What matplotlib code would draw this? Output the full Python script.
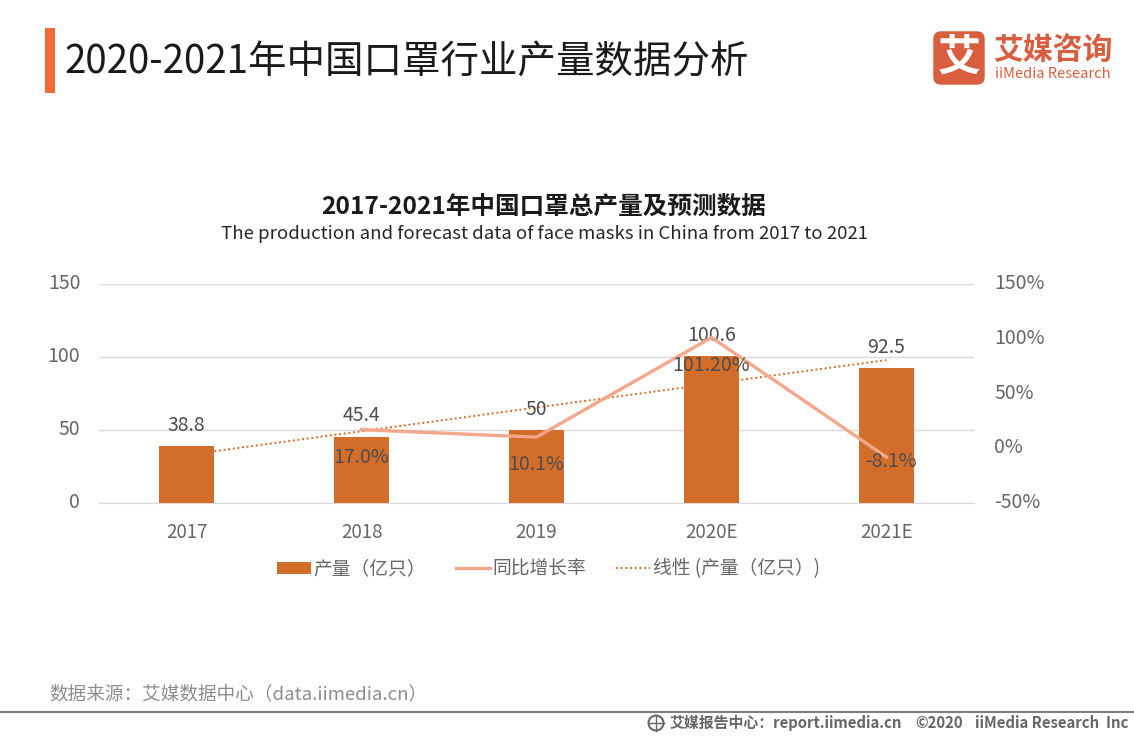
import matplotlib

matplotlib.use("Agg")
import matplotlib.pyplot as plt
from matplotlib.patches import Circle, FancyBboxPatch, Rectangle
from matplotlib.transforms import ScaledTranslation

plt.rcParams["font.family"] = ["Noto Sans CJK SC", "DejaVu Sans"]

years = ["2017", "2018", "2019", "2020E", "2021E"]
output = [38.8, 45.4, 50, 100.6, 92.5]
growth_years = [1, 2, 3, 4]
growth = [17.0, 10.1, 101.2, -8.1]
growth_labels = ["17.0%", "10.1%", "101.20%", "-8.1%"]
trend_years = [0, 4]
trend = [32.9, 97.9]
left_ticks = [0, 50, 100, 150]
right_ticks = [-50, 0, 50, 100, 150]

BAR = "#D26D2A"
LINE = "#F4A78A"
TEXT = "#666666"
DARK = "#4d4d4d"
LOGO = "#D95D3F"

W, H = 1134, 737
fig = plt.figure(figsize=(W / 100, H / 100), dpi=100, facecolor="white")

# overlay in pixel coordinates, only for header and footer
bg = fig.add_axes([0, 0, 1, 1])
bg.set_xlim(0, W)
bg.set_ylim(H, 0)
bg.axis("off")

bg.add_patch(Rectangle((45, 28), 10, 65, color="#F46B36", lw=0))
bg.text(64.5, 62, "2020-2021年中国口罩行业产量数据分析", fontsize=27.7, color="#1a1a1a", va="center")

bg.add_patch(
    FancyBboxPatch(
        (934, 32), 50, 52, boxstyle="round,pad=0,rounding_size=7", fc=LOGO, ec=LOGO, lw=1
    )
)
bg.text(959, 58, "艾", fontsize=31, color="white", weight="bold", ha="center", va="center")
bg.text(993, 50, "艾媒咨询", fontsize=21.5, color=LOGO, weight="bold", va="center")
bg.text(995, 74, "iiMedia Research", fontsize=10.6, color=LOGO, va="center")

bg.text(544, 207, "2017-2021年中国口罩总产量及预测数据", fontsize=17.7, color="#1a1a1a", weight="bold", ha="center", va="center")
bg.text(545, 234, "The production and forecast data of face masks in China from 2017 to 2021", fontsize=13.4, color="#262626", ha="center", va="center")

bg.text(49, 694, "数据来源：艾媒数据中心（data.iimedia.cn）", fontsize=13.4, color="#8c8c8c", va="center")
bg.plot([0, W], [712, 712], color="#7f7f7f", lw=1.5)
bg.add_patch(Circle((656, 723), 7.5, fc="none", ec="#666666", lw=1.5))
bg.plot([648.5, 663.5], [723, 723], color="#666666", lw=1)
bg.plot([656, 656], [715.5, 730.5], color="#666666", lw=1)
bg.text(670, 723, "艾媒报告中心：report.iimedia.cn", fontsize=10.75, color="#666666", weight="bold", va="center")
bg.text(915, 723, "©2020", fontsize=10.75, color="#666666", weight="bold", va="center")
bg.text(975, 723, "iiMedia Research  Inc", fontsize=10.75, color="#666666", weight="bold", va="center")

# main plot, y=0 at 503px and y=150 at 284px
ax = fig.add_axes([99 / W, 1 - 503 / H, 875 / W, 219 / H])
ax.patch.set_alpha(0)
x = list(range(len(years)))
line_trend, = ax.plot(trend_years, trend, color=BAR, lw=1.4, ls=(0, (1, 1.4)), zorder=2, label="线性 (产量（亿只）)")
bars = ax.bar(x, output, width=55 / 175, color=BAR, zorder=3, label="产量（亿只）")
ax.set_xlim(-0.5, 4.5)
ax.set_ylim(0, 150)
ax.set_xticks(x, years)
ax.set_yticks(left_ticks)
ax.grid(axis="y", color="#D9D9D9", lw=1, zorder=0)
ax.set_axisbelow(True)
for s in ["top", "left", "right"]:
    ax.spines[s].set_visible(False)
ax.spines["bottom"].set_color("#D9D9D9")
ax.tick_params(axis="x", length=0, pad=14, labelsize=13.5, labelcolor=TEXT)
ax.tick_params(axis="y", length=0, pad=13.5, labelsize=14, labelcolor=TEXT)

ax2 = ax.twinx()
ax2.patch.set_alpha(0)
ax2.set_ylim(-50, 150)
ax2.set_yticks(right_ticks, [f"{t}%" for t in right_ticks])
for s in ax2.spines.values():
    s.set_visible(False)
ax2.tick_params(axis="y", length=0, pad=14.5, labelsize=14, labelcolor=TEXT)
line_growth, = ax2.plot(growth_years, growth, color=LINE, lw=2.4, zorder=4, label="同比增长率")

# nudge value tick labels up a little, CJK font sits low
nudge = ScaledTranslation(0, 2 / 72, fig.dpi_scale_trans)
for lab in ax.get_yticklabels() + ax2.get_yticklabels():
    lab.set_transform(lab.get_transform() + nudge)

for i, v in enumerate(output):
    ax.annotate(str(v), (i, v), xytext=(0, 15), textcoords="offset points",
                ha="center", va="center", fontsize=14, color=DARK, zorder=6)
for xi, v, lab in zip(growth_years, growth, growth_labels):
    # last label sits right under the line end in the original
    off = (3.5, -3.5) if v < 0 else (0, -20)
    ax2.annotate(lab, (xi, v), xytext=off, textcoords="offset points",
                 ha="center", va="center", fontsize=14, color=DARK, zorder=6)

fig.legend(
    handles=[bars, line_growth, line_trend],
    loc="center",
    bbox_to_anchor=(548.5 / W, 1 - 569 / H),
    ncol=3,
    frameon=False,
    fontsize=13.5,
    labelcolor=TEXT,
    handlelength=1.8,
    handleheight=0.6,
    handletextpad=0.15,
    columnspacing=1.6,
)

fig.savefig("out.png", dpi=100)
